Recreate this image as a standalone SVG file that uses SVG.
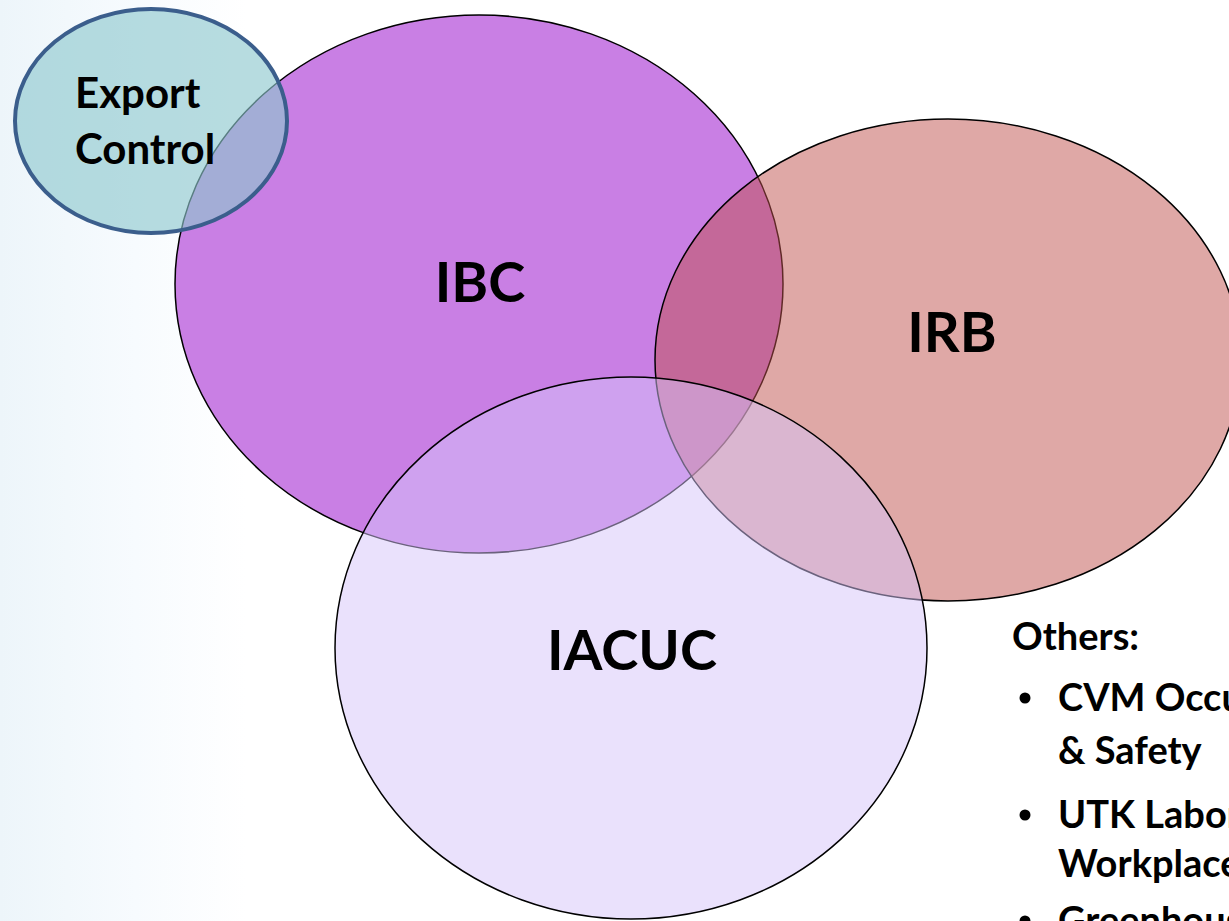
<svg xmlns="http://www.w3.org/2000/svg" width="1229" height="921" viewBox="0 0 1229 921">
  <defs>
    <linearGradient id="bg" x1="0" y1="0" x2="1" y2="0">
      <stop offset="0" stop-color="#EDF5FA"/>
      <stop offset="0.11" stop-color="#F7FBFE"/>
      <stop offset="0.2" stop-color="#FFFFFF"/>
      <stop offset="1" stop-color="#FFFFFF"/>
    </linearGradient>
  </defs>
  <style>
    .lbl { font-family: Lato, "Liberation Sans", sans-serif; font-weight: bold; fill: #000000; }
    .big { font-size: 56px; text-anchor: middle; }
    .ec { font-size: 42px; }
    .oth { font-size: 38px; }
    .ring { stroke: #000000; stroke-width: 1.5; }
  </style>
  <rect x="0" y="0" width="1229" height="921" fill="url(#bg)"/>

  <g id="ibc">
    <ellipse class="ring" cx="479" cy="284" rx="304" ry="269" fill="#C97FE4"/>
  </g>
  <g id="irb">
    <ellipse class="ring" cx="948" cy="360" rx="293" ry="241" fill="#BF514D" fill-opacity="0.5"/>
  </g>
  <g id="iacuc">
    <ellipse class="ring" cx="631" cy="648" rx="296" ry="271" fill="#D5C3F9" fill-opacity="0.5"/>
  </g>
  <g id="export-control">
    <ellipse cx="151" cy="121" rx="136" ry="112" fill="#8DC8CE" fill-opacity="0.63" stroke="#3B5E8C" stroke-width="4"/>
    <text class="lbl ec" x="75" y="108">Export</text>
    <text class="lbl ec" x="75" y="164">Control</text>
  </g>
  <g id="labels">
    <text class="lbl big" x="480" y="302">IBC</text>
    <text class="lbl big" x="952" y="352">IRB</text>
    <text class="lbl big" x="632" y="670">IACUC</text>
  </g>
  <g id="others">
    <text class="lbl oth" x="1012" y="650">Others:</text>
    <circle cx="1025" cy="698" r="5.5" fill="#000"/>
    <text class="lbl oth" x="1058" y="711">CVM Occu</text>
    <text class="lbl oth" x="1058" y="764">&amp; Safety</text>
    <circle cx="1025" cy="815" r="5.5" fill="#000"/>
    <text class="lbl oth" x="1058" y="828">UTK Labor</text>
    <text class="lbl oth" x="1058" y="877">Workplace</text>
    <circle cx="1025" cy="921" r="5.5" fill="#000"/>
    <text class="lbl oth" x="1058" y="934">Greenhouse</text>
  </g>
  <g id="connectors"/>
</svg>
